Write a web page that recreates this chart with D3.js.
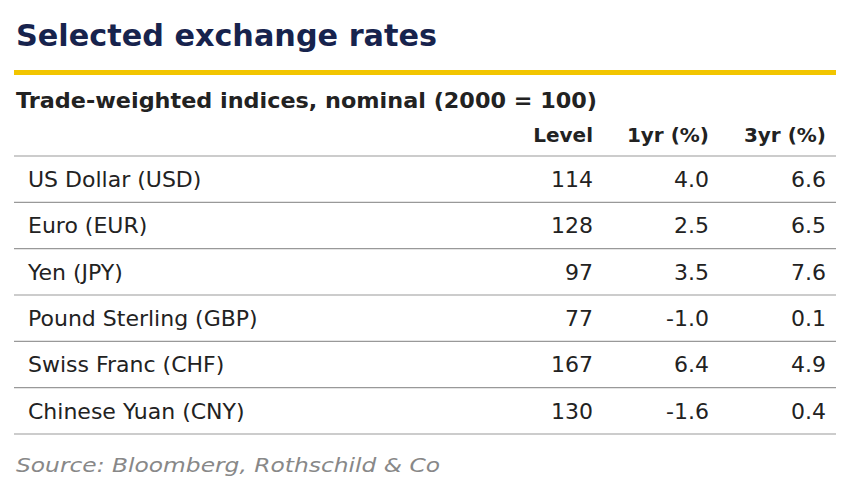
<!DOCTYPE html>
<html><head><meta charset="utf-8">
<script src="https://cdn.jsdelivr.net/npm/d3@7"></script>
<style>body{margin:0;background:#fff}</style></head>
<body><svg id="c" width="864" height="492"></svg>
<script>
const currencies=["US Dollar (USD)","Euro (EUR)","Yen (JPY)","Pound Sterling (GBP)","Swiss Franc (CHF)","Chinese Yuan (CNY)"];
const level=[114,128,97,77,167,130];
const oneYr=[4.0,2.5,3.5,-1.0,6.4,-1.6];
const threeYr=[6.6,6.5,7.6,0.1,4.9,0.4];
const columns=["Level","1yr (%)","3yr (%)"];

const svg=d3.select("#c");
const F="'DejaVu Sans', sans-serif";
function fit(sel,w){sel.attr("textLength",w).attr("lengthAdjust","spacingAndGlyphs");return sel;}
fit(svg.append("text").attr("x",16).attr("y",46).attr("font-family",F).attr("font-weight",700)
 .attr("font-size",30).attr("fill","#17234d").text("Selected exchange rates"),421);
svg.append("rect").attr("x",14).attr("y",70).attr("width",822).attr("height",5).attr("fill","#f2c500");
fit(svg.append("text").attr("x",16).attr("y",108).attr("font-family",F).attr("font-weight",700)
 .attr("font-size",21).attr("fill","#222").text("Trade-weighted indices, nominal (2000 = 100)"),581);
const colX=d3.scaleOrdinal().domain(columns).range([593,709,826]);
svg.selectAll(".h").data(columns).join("text").attr("x",d=>colX(d)).attr("y",142)
 .attr("text-anchor","end").attr("font-family",F).attr("font-weight",700).attr("font-size",20).attr("fill","#222").text(d=>d);
const y=d3.scaleBand().domain(currencies).range([156,434]);
svg.append("line").attr("x1",14).attr("x2",836).attr("y1",156).attr("y2",156).attr("stroke","#999").attr("stroke-width",1.2);
const rows=svg.selectAll(".r").data(currencies).join("g").attr("transform",d=>`translate(0,${y(d)})`);
rows.append("line").attr("x1",14).attr("x2",836).attr("y1",y.bandwidth()).attr("y2",y.bandwidth()).attr("stroke","#999").attr("stroke-width",1.2);
const ty=y.bandwidth()/2+8;
const st=s=>s.attr("font-family",F).attr("font-size",22).attr("fill","#222").attr("y",ty);
st(rows.append("text").attr("x",28).text(d=>d));
st(rows.append("text").attr("x",colX("Level")).attr("text-anchor","end").text((d,i)=>level[i]));
st(rows.append("text").attr("x",colX("1yr (%)")).attr("text-anchor","end").text((d,i)=>oneYr[i].toFixed(1)));
st(rows.append("text").attr("x",colX("3yr (%)")).attr("text-anchor","end").text((d,i)=>threeYr[i].toFixed(1)));
fit(svg.append("text").attr("x",16).attr("y",472).attr("font-family",F).attr("font-style","italic")
 .attr("font-size",19).attr("fill","#888").text("Source: Bloomberg, Rothschild & Co"),424);
</script></body></html>
